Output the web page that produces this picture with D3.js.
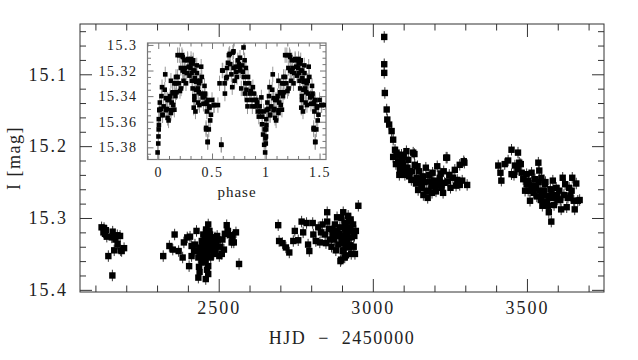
<!DOCTYPE html>
<html><head><meta charset="utf-8">
<script src="https://cdn.jsdelivr.net/npm/d3@7"></script>
<style>
body{margin:0;background:#fff}
svg{display:block}
text{font-family:"Liberation Serif","DejaVu Serif",serif;fill:#222}
</style>
</head><body>
<svg id="c" width="638" height="360"></svg>
<script>
// ---------- DATA: light curve (HJD - 2450000, I mag) ----------
const hjd = [
 2120,2128,2134,2126,2137,2153,2156,2160,2171,2180,2172,2161,2182,2193,2185,2142,2155,2131,2165,
 2320,2340,2351,2357,2370,2383,2387,2398,2407,2404,2412,2420,2428,2434,2434,2441,2445,2450,2455,2459,
 2461,2466,2466,2466,2469,2477,2488,2493,2502,2498,2510,2517,2526,2536,2542,2549,2556,2566,2439,2452,
 2449,2474,2482,2423,2412,2472,2436,2438,2458,2463,2470,2480,2490,2445,2430,2456,
 2447,2453,2460,2464,2468,2457,2462,2450,2443,2473,2476,2484,2495,2505,2512,2520,2530,2545,2458,2462,
 2693,2696,2707,2718,2729,2742,2747,2758,2769,2774,2785,2790,2794,2805,2807,2815,2823,2828,2837,2845,
 2852,2852,2861,2869,2877,2880,2884,2888,2893,2899,2902,2904,2909,2909,2915,2917,2920,2923,2926,2931,
 2895,2942,2936,2953,2945,2897,2866,2885,2912,2928,2875,2906,
 2890,2900,2905,2910,2918,2922,2927,2933,2938,2940,2930,2913,2898,2880,2870,2858,2848,2832,
 3037,3037,3037,3039,3045,3047,3053,3061,3066,3072,3077,3066,3082,3093,3088,3099,3109,3115,3120,3131,
 3136,3142,3150,3158,3163,3172,3180,3185,3194,3201,3209,3217,3223,3230,3241,3244,3252,3266,3274,3282,
 3295,3306,3147,3164,3178,3205,3233,3086,3104,3125,3135,3238,3297,3282,3095,3112,3155,3190,3215,3260,
 3075,3080,3090,3100,3105,3118,3128,3140,3145,3152,3160,3168,3175,3183,3192,3198,3210,3220,3228,3248,3270,3290,
 3407,3414,3417,3428,3439,3450,3450,3461,3471,3475,3483,3488,3499,3504,3510,3515,3520,3526,3537,3540,
 3543,3547,3550,3558,3563,3568,3571,3576,3579,3584,3590,3595,3605,3611,3616,3624,3629,3637,3641,3647,
 3652,3655,3660,3665,3671,3510,3530,3550,3574,3600,3494,3499,
 3505,3515,3522,3532,3538,3545,3555,3560,3565,3580,3588,3597,3608,3620,3633,3645,3470,3480,3458
];
const imag = [
 15.313,15.314,15.317,15.320,15.326,15.327,15.319,15.325,15.324,15.325,15.336,15.345,15.345,15.342,15.346,15.353,15.380,15.322,15.330,
 15.353,15.339,15.344,15.323,15.346,15.355,15.334,15.327,15.326,15.367,15.353,15.346,15.318,15.355,15.383,15.341,15.332,15.323,15.337,15.316,
 15.346,15.309,15.367,15.378,15.341,15.327,15.327,15.337,15.353,15.330,15.350,15.344,15.310,15.324,15.334,15.334,15.320,15.364,15.351,15.358,
 15.346,15.355,15.341,15.337,15.339,15.323,15.368,15.375,15.350,15.331,15.318,15.335,15.345,15.362,15.345,15.328,
 15.340,15.345,15.338,15.352,15.330,15.360,15.372,15.352,15.348,15.345,15.336,15.350,15.325,15.340,15.330,15.322,15.318,15.326,15.385,15.320,
 15.310,15.332,15.335,15.341,15.348,15.332,15.318,15.331,15.305,15.320,15.307,15.337,15.346,15.307,15.323,15.332,15.313,15.334,15.309,15.323,
 15.292,15.305,15.330,15.316,15.309,15.325,15.299,15.337,15.313,15.327,15.346,15.292,15.307,15.355,15.320,15.332,15.297,15.341,15.313,15.327,
 15.360,15.350,15.309,15.283,15.318,15.358,15.340,15.318,15.338,15.302,15.330,15.324,
 15.322,15.335,15.345,15.315,15.325,15.305,15.338,15.318,15.340,15.325,15.350,15.352,15.300,15.345,15.322,15.315,15.335,15.320,
 15.048,15.086,15.098,15.126,15.149,15.163,15.170,15.179,15.191,15.205,15.209,15.215,15.221,15.212,15.233,15.226,15.207,15.219,15.235,15.209,
 15.226,15.244,15.235,15.254,15.242,15.230,15.263,15.249,15.237,15.256,15.228,15.244,15.258,15.235,15.216,15.249,15.258,15.233,15.247,15.254,
 15.221,15.254,15.261,15.268,15.272,15.263,15.251,15.240,15.240,15.247,15.211,15.216,15.223,15.226,15.218,15.230,15.248,15.256,15.250,15.244,
 15.225,15.212,15.225,15.215,15.232,15.242,15.235,15.252,15.228,15.246,15.258,15.250,15.262,15.240,15.265,15.248,15.255,15.238,15.265,15.240,15.255,15.248,
 15.227,15.237,15.248,15.225,15.220,15.205,15.239,15.227,15.209,15.223,15.237,15.246,15.253,15.262,15.276,15.237,15.255,15.246,15.223,15.234,
 15.262,15.244,15.283,15.253,15.269,15.283,15.292,15.260,15.305,15.248,15.272,15.258,15.262,15.288,15.244,15.253,15.285,15.258,15.269,15.244,
 15.276,15.288,15.252,15.276,15.275,15.262,15.258,15.267,15.272,15.274,15.262,15.239,
 15.248,15.255,15.265,15.270,15.250,15.275,15.262,15.250,15.278,15.265,15.282,15.268,15.275,15.268,15.272,15.262,15.232,15.225,15.240
];
const imagErr = 0.008;

// ---------- DATA: phased light curve (inset) ----------
const phase = [
 -0.006,0.000,0.002,0.004,0.006,0.010,0.025,0.040,0.035,0.065,0.072,0.087,0.096,0.118,0.118,0.134,0.140,0.150,0.165,0.170,
 0.190,0.196,0.202,0.220,0.227,0.243,0.258,0.273,0.283,0.290,0.305,0.314,0.320,0.327,0.336,0.346,0.358,0.358,0.376,0.390,
 0.399,0.414,0.430,0.440,0.452,0.445,0.470,0.460,0.476,0.483,0.500,0.520,0.555,0.586,0.570,0.595,0.617,0.638,0.648,0.657,
 0.680,0.688,0.700,0.720,0.732,0.750,0.763,0.772,0.787,0.793,0.803,0.810,0.825,0.835,0.850,0.866,0.880,0.897,0.913,0.928,
 0.943,0.959,0.968,0.980,0.990,0.997,
 0.180,0.227,0.274,0.305,0.320,0.336,0.352,0.336,0.330,0.367,0.383,0.430,0.460,0.476,0.490,0.517,0.445,0.460,0.586,0.600,
 0.632,0.664,0.694,0.726,0.757,0.010,0.040,0.087,0.118,0.150,0.134,0.165,0.212,0.243,0.072,0.103,
 0.300,0.310,0.325,0.340,0.350,0.360,0.370,0.380,0.395,0.405,0.420,0.435,0.450,0.740,0.760,0.780,0.795,0.805,0.815,0.820,
 0.830,0.845,0.860,0.875,0.890,0.905,0.920,0.935,0.950,0.965,0.975,0.985,0.005,0.015,0.030,0.050,0.060,0.080,0.110,0.125,
 0.160,0.180,0.210,0.235,0.250,0.265,0.620,0.640,0.670,0.700,0.710
];
const pmag = [
 15.384,15.377,15.3715,15.366,15.3625,15.351,15.350,15.355,15.333,15.323,15.351,15.343,15.359,15.328,15.351,15.337,15.347,15.330,15.325,15.337,
 15.330,15.308,15.336,15.308,15.320,15.312,15.330,15.311,15.317,15.324,15.314,15.328,15.334,15.320,15.343,15.352,15.316,15.328,15.337,15.328,
 15.317,15.341,15.332,15.346,15.352,15.366,15.366,15.376,15.348,15.359,15.343,15.347,15.347,15.378,15.330,15.320,15.330,15.325,15.314,15.308,
 15.323,15.333,15.305,15.317,15.325,15.315,15.320,15.334,15.321,15.302,15.312,15.330,15.343,15.325,15.338,15.343,15.333,15.343,15.343,15.352,
 15.348,15.341,15.356,15.352,15.366,15.373,
 15.308,15.3095,15.312,15.311,15.3146,15.320,15.3287,15.340,15.349,15.334,15.347,15.340,15.343,15.349,15.3545,15.347,15.3648,15.3756,15.378,15.320,
 15.326,15.307,15.306,15.321,15.317,15.3506,15.3545,15.357,15.3532,15.3506,15.3378,15.330,15.334,15.321,15.3416,15.343,
 15.318,15.322,15.312,15.326,15.335,15.322,15.345,15.330,15.338,15.325,15.346,15.338,15.345,15.312,15.310,15.316,15.325,15.338,15.318,15.335,
 15.348,15.330,15.336,15.348,15.338,15.348,15.345,15.356,15.352,15.362,15.370,15.378,15.358,15.345,15.340,15.348,15.335,15.350,15.340,15.345,
 15.340,15.325,15.318,15.328,15.318,15.322,15.338,15.318,15.315,15.318,15.328
];
const pmagErr = 0.006;

// ---------- tick labels ----------
const xMajor = [2500, 3000, 3500];
const yMajor = [15.1, 15.2, 15.3, 15.4];
const phMajor = [0, 0.5, 1, 1.5];
const pmMajor = [15.3, 15.32, 15.34, 15.36, 15.38];

// ---------- chart ----------
const svg = d3.select('#c');
const M = {l:80, t:24, r:604, b:292};
const x = d3.scaleLinear().domain([2050, 3750]).range([M.l, M.r]);
const y = d3.scaleLinear().domain([15.03, 15.403]).range([M.t, M.b]);

const AX = '#333';
function styleAxis(g, col){
  g.select('.domain').remove();
  g.selectAll('.tick line').attr('stroke', col);
}
function axis(gen, scale, vals, len, tr, fmt, pad, col, fs, ls){
  const a = gen(scale).tickValues(vals).tickSizeInner(-len).tickSizeOuter(0)
     .tickPadding(pad).tickFormat(fmt);
  const g = svg.append('g').attr('transform', tr).call(a);
  styleAxis(g, col);
  g.selectAll('text').attr('font-family', '"Liberation Serif",serif')
    .attr('font-size', fs).attr('fill', '#222').style('letter-spacing', ls + 'px');
  return g;
}
const none = () => '';
const xMinor = d3.range(2100, 3751, 100).filter(v => v % 500 !== 0);
const yMinor = d3.range(15.04, 15.401, 0.02).map(v => +v.toFixed(2)).filter(v => Math.abs(v*10 - Math.round(v*10)) > 1e-6);

// main frame
svg.append('rect').attr('x', M.l).attr('y', M.t).attr('width', M.r - M.l).attr('height', M.b - M.t)
  .attr('fill', 'none').attr('stroke', AX).attr('stroke-width', 1);

axis(d3.axisBottom, x, xMajor, 13, `translate(0,${M.b})`, d3.format('d'), 9, AX, 18, 2);
axis(d3.axisBottom, x, xMinor, 6.5, `translate(0,${M.b})`, none, 0, AX, 1, 0);
axis(d3.axisTop, x, xMajor, 13, `translate(0,${M.t})`, none, 0, AX, 1, 0);
axis(d3.axisTop, x, xMinor, 6.5, `translate(0,${M.t})`, none, 0, AX, 1, 0);
axis(d3.axisLeft, y, yMajor, 12, `translate(${M.l},0)`, d3.format('.1f'), 12, AX, 18, 2);
axis(d3.axisLeft, y, yMinor, 6, `translate(${M.l},0)`, none, 0, AX, 1, 0);
axis(d3.axisRight, y, yMajor, 12, `translate(${M.r},0)`, none, 0, AX, 1, 0);
axis(d3.axisRight, y, yMinor, 6, `translate(${M.r},0)`, none, 0, AX, 1, 0);

// main data
const mainData = hjd.map((h, i) => ({h, m: imag[i]}));
const gm = svg.append('g');
gm.selectAll('line').data(mainData).join('line')
  .attr('x1', d => x(d.h)).attr('x2', d => x(d.h))
  .attr('y1', d => y(d.m - imagErr)).attr('y2', d => y(d.m + imagErr))
  .attr('stroke', '#333').attr('stroke-width', 1);
gm.selectAll('rect').data(mainData).join('rect')
  .attr('x', d => x(d.h) - 3.2).attr('y', d => y(d.m) - 3.2)
  .attr('width', 6.4).attr('height', 6.4).attr('fill', '#000');

// axis titles
svg.append('text').attr('x', 342).attr('y', 344).attr('text-anchor', 'middle')
  .attr('font-size', 18).style('letter-spacing', '1.5px').style('white-space', 'pre')
  .text('HJD  \u2212  2450000');
svg.append('text').attr('transform', 'translate(20,158) rotate(-90)').attr('text-anchor', 'middle')
  .attr('font-size', 18).style('letter-spacing', '1.5px').style('white-space', 'pre')
  .text('I [mag]');

// ---------- inset ----------
const I = {l:147.5, t:43, r:326, b:159.5};
const xi = d3.scaleLinear().domain([-0.1, 1.56]).range([I.l, I.r]);
const yi = d3.scaleLinear().domain([15.2985, 15.3895]).range([I.t, I.b]);
const IC = '#777';
svg.append('rect').attr('x', I.l).attr('y', I.t).attr('width', I.r - I.l).attr('height', I.b - I.t)
  .attr('fill', '#fff').attr('stroke', IC).attr('stroke-width', 1.2);

const phMinor = d3.range(-0.1, 1.56, 0.1).map(v => +v.toFixed(2)).filter(v => !phMajor.includes(v));
const pmMinor = d3.range(15.30, 15.39, 0.005).map(v => +v.toFixed(3)).filter(v => !pmMajor.some(m => Math.abs(m - v) < 1e-6));

axis(d3.axisBottom, xi, phMajor, 6, `translate(0,${I.b})`, d3.format('~g'), 8, IC, 14, 1.5);
axis(d3.axisBottom, xi, phMinor, 3.5, `translate(0,${I.b})`, none, 0, IC, 1, 0);
axis(d3.axisTop, xi, phMajor, 6, `translate(0,${I.t})`, none, 0, IC, 1, 0);
axis(d3.axisTop, xi, phMinor, 3.5, `translate(0,${I.t})`, none, 0, IC, 1, 0);
axis(d3.axisLeft, yi, pmMajor, 6, `translate(${I.l},0)`, d3.format('~g'), 10, IC, 14, 1.5);
axis(d3.axisLeft, yi, pmMinor, 3.5, `translate(${I.l},0)`, none, 0, IC, 1, 0);
axis(d3.axisRight, yi, pmMajor, 6, `translate(${I.r},0)`, none, 0, IC, 1, 0);
axis(d3.axisRight, yi, pmMinor, 3.5, `translate(${I.r},0)`, none, 0, IC, 1, 0);

svg.append('defs').append('clipPath').attr('id', 'ic').append('rect')
  .attr('x', I.l).attr('y', I.t).attr('width', I.r - I.l).attr('height', I.b - I.t);

// each phase point is shown at phase and (for phase < 0.56) at phase + 1
const phData = [];
phase.forEach((p, i) => {
  phData.push({p, m: pmag[i]});
  if (p < 0.56) phData.push({p: p + 1, m: pmag[i]});
});
const gi = svg.append('g').attr('clip-path', 'url(#ic)');
gi.selectAll('line').data(phData).join('line')
  .attr('x1', d => xi(d.p)).attr('x2', d => xi(d.p))
  .attr('y1', d => yi(d.m - pmagErr)).attr('y2', d => yi(d.m + pmagErr))
  .attr('stroke', '#999').attr('stroke-width', 1);
gi.selectAll('rect').data(phData).join('rect')
  .attr('x', d => xi(d.p) - 2.3).attr('y', d => yi(d.m) - 2.3)
  .attr('width', 4.6).attr('height', 4.6).attr('fill', '#000');

svg.append('text').attr('x', 237).attr('y', 197).attr('text-anchor', 'middle')
  .attr('font-size', 15).style('letter-spacing', '1px').text('phase');
</script>
</body></html>
